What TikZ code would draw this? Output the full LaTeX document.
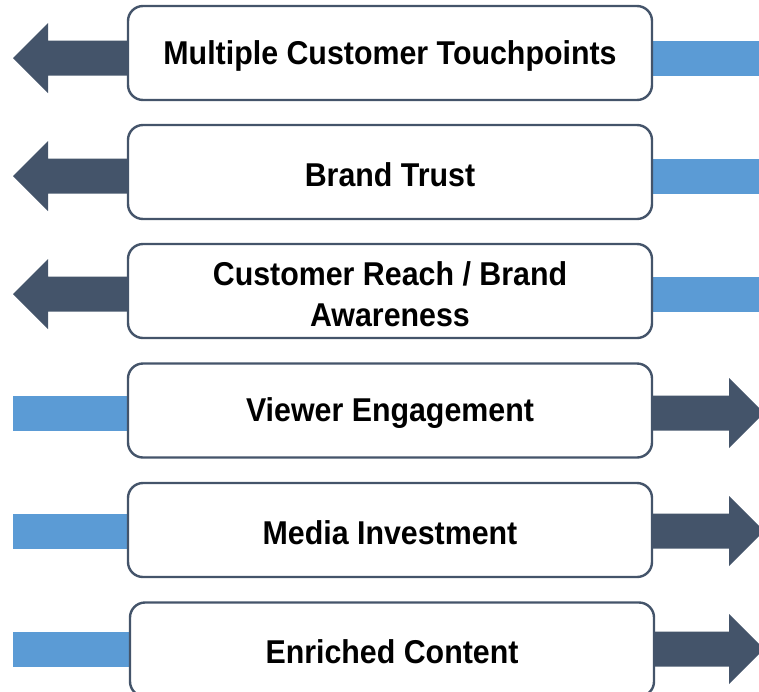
\documentclass[tikz,border=0pt]{standalone}
\usepackage{fontspec}
\newfontfamily\boxfont{Liberation Sans}[FakeStretch=0.92]
\definecolor{darkslate}{HTML}{44546A}
\definecolor{lightblue}{HTML}{5B9BD5}
\begin{document}
\begin{tikzpicture}[x=1pt,y=-1pt,
  itembox/.style={draw=darkslate, line width=2.4pt, fill=white, rounded corners=15pt,
    minimum width=524pt, minimum height=94pt, inner sep=0pt},
  itemtext/.style={inner sep=0pt, align=center,
    font=\boxfont\bfseries\fontsize{33}{41}\selectfont, text=black},
  darkfill/.style={fill=darkslate},
  lightfill/.style={fill=lightblue}
]
\path[use as bounding box] (0,0) rectangle (759,691);

% arrows pointing left (rows 1-3) with light bars on the right
\foreach \c in {58,176,294}{
  \fill[darkfill] (132,\c-17.5) -- (48,\c-17.5) -- (48,\c-35) -- (13,\c) -- (48,\c+35) -- (48,\c+17.5) -- (132,\c+17.5) -- cycle;
  \fill[lightfill] (648,\c-17.5) rectangle (760,\c+17.5);
}
% light bars on the left and arrows pointing right (rows 4-6)
\foreach \c in {413,531,649}{
  \fill[lightfill] (13,\c-17.5) rectangle (132,\c+17.5);
  \fill[darkfill] (648,\c-17.5) -- (729,\c-17.5) -- (729,\c-35) -- (764,\c) -- (729,\c+35) -- (729,\c+17.5) -- (648,\c+17.5) -- cycle;
}

\node[itembox] (b1) at (390,53) {};
\node[itembox] (b2) at (390,172) {};
\node[itembox] (b3) at (390,291) {};
\node[itembox] (b4) at (390,410.5) {};
\node[itembox] (b5) at (390,530) {};
\node[itembox] (b6) at (392,649.5) {};

\node[itemtext] (t1) at ([yshift=-2.5pt]b1.center) {Multiple Customer Touchpoints};
\node[itemtext] (t2) at ([yshift=-2.5pt]b2.center) {Brand Trust};
\node[itemtext] (t3) at ([yshift=-3pt]b3.center) {Customer Reach / Brand\\Awareness};
\node[itemtext] (t4) at ([yshift=-2.5pt]b4.center) {Viewer Engagement};
\node[itemtext] (t5) at ([yshift=-2.5pt]b5.center) {Media Investment};
\node[itemtext] (t6) at ([yshift=-2.5pt]b6.center) {Enriched Content};
\end{tikzpicture}
\end{document}
